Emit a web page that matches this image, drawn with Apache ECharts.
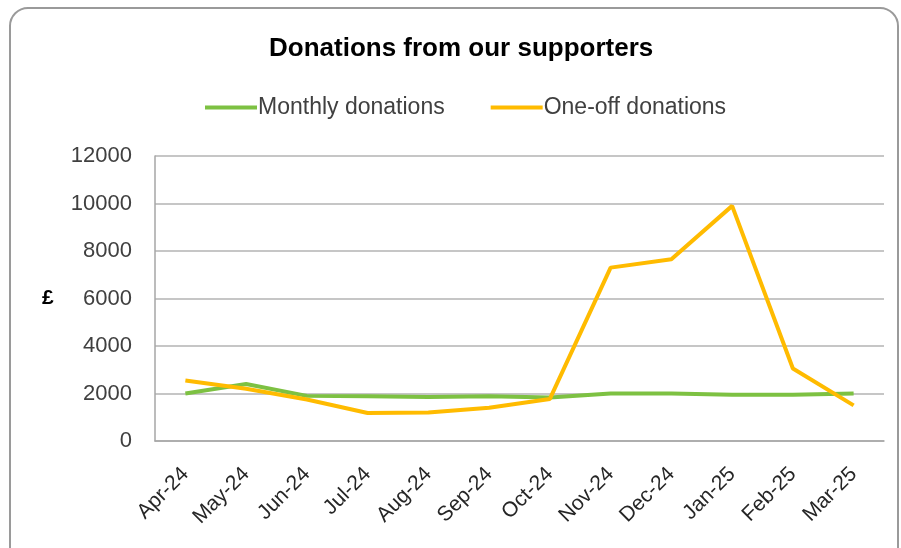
<!DOCTYPE html>
<html>
<head>
<meta charset="utf-8">
<script src="https://cdn.jsdelivr.net/npm/echarts@6/dist/echarts.min.js"></script>
<style>
  html, body { margin: 0; padding: 0; background: #fff; }
  #chart { width: 901px; height: 548px; }
</style>
</head>
<body>
<div id="chart"></div>
<script>
// Months of the financial year
const months = ['Apr-24', 'May-24', 'Jun-24', 'Jul-24', 'Aug-24', 'Sep-24',
                'Oct-24', 'Nov-24', 'Dec-24', 'Jan-25', 'Feb-25', 'Mar-25'];

// Donation totals in £
const monthlyDonations = [2000, 2400, 1900, 1880, 1850, 1880, 1830, 2000, 2000, 1950, 1950, 2000];
const oneOffDonations  = [2550, 2200, 1750, 1180, 1200, 1400, 1770, 7300, 7650, 9900, 3050, 1500];

// Value axis range
const yMin = 0, yMax = 12000, yStep = 2000;

const FONT = "'Liberation Sans', Arial, sans-serif";

const chart = echarts.init(document.getElementById('chart'), null, { renderer: 'canvas' });

chart.setOption({
  animation: false,
  backgroundColor: '#ffffff',
  graphic: [
    {
      type: 'rect',
      shape: { x: 10, y: 8, width: 888, height: 570, r: 18 },
      style: { fill: 'none', stroke: '#9a9a9a', lineWidth: 2 },
      z: -1
    },
    {
      type: 'text',
      left: 42, top: 288,
      style: { text: '£', fontFamily: FONT, fontWeight: 'bold', fontSize: 21, fill: '#000' }
    }
  ],
  title: {
    text: 'Donations from our supporters',
    left: 264,
    top: 31,
    textStyle: { fontFamily: FONT, fontWeight: 'bold', fontSize: 26, color: '#000' }
  },
  legend: {
    top: 91,
    left: 200,
    itemWidth: 52,
    itemHeight: 4,
    itemGap: 46,
    icon: 'rect',
    textStyle: { fontFamily: FONT, fontSize: 23, color: '#404040', padding: [0, 0, 0, -4] },
    data: ['Monthly donations', 'One-off donations']
  },
  grid: { left: 155, right: 17, top: 156, bottom: 107 },
  xAxis: {
    type: 'category',
    data: months,
    boundaryGap: true,
    axisLine: { lineStyle: { color: '#a6a6a6', width: 1.5 } },
    axisTick: { show: false },
    axisLabel: {
      rotate: 45,
      margin: 30,
      fontFamily: FONT,
      fontSize: 21,
      color: '#262626',
      interval: 0
    }
  },
  yAxis: {
    type: 'value',
    min: yMin,
    max: yMax,
    interval: yStep,
    axisLine: { show: true, lineStyle: { color: '#a6a6a6', width: 1.5 } },
    axisTick: { show: false },
    splitLine: { lineStyle: { color: '#b3b3b3', width: 1.5 } },
    axisLabel: {
      margin: 23,
      fontFamily: FONT,
      fontSize: 22,
      color: '#404040',
      formatter: v => String(v)
    }
  },
  series: [
    {
      name: 'Monthly donations',
      type: 'line',
      data: monthlyDonations,
      symbol: 'none',
      color: '#7dc142',
      lineStyle: { width: 4, color: '#7dc142' }
    },
    {
      name: 'One-off donations',
      type: 'line',
      data: oneOffDonations,
      symbol: 'none',
      color: '#ffbb00',
      lineStyle: { width: 4, color: '#ffbb00' }
    }
  ]
});
</script>
</body>
</html>
